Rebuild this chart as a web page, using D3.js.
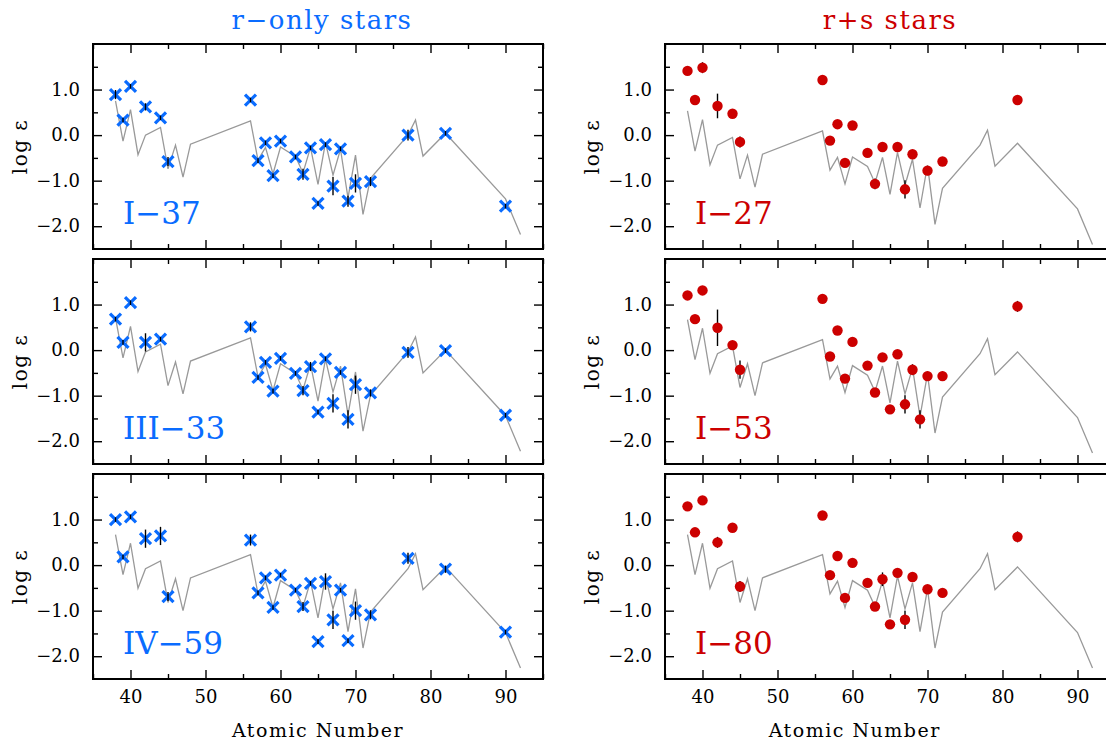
<!DOCTYPE html>
<html>
<head>
<meta charset="utf-8">
<script src="https://cdn.jsdelivr.net/npm/d3@7"></script>
<style>
  body { margin: 0; background: #fff; }
  svg text { font-family: "DejaVu Serif", serif; }
</style>
</head>
<body>
<svg id="chart" width="1106" height="741"></svg>
<script>
// scaled solar r-process pattern (gray line)
const solarZ = [38, 39, 40, 41, 42, 44, 45, 46, 47, 48, 56, 57, 58, 59, 60, 62, 63, 64, 65, 66, 67, 68, 69, 70, 71, 72, 77, 78, 79, 82, 90, 92];
const solarR = [0.75, -0.13, 0.56, -0.43, 0.0, 0.17, -0.74, -0.22, -0.92, -0.20, 0.31, -0.55, -0.27, -0.85, -0.26, -0.47, -0.83, -0.27, -1.08, -0.16, -0.88, -0.31, -1.38, -0.44, -1.74, -0.95, 0.0, 0.33, -0.46, 0.04, -1.40, -2.18];

// r-only stars
const rZ = [38, 39, 40, 42, 44, 45, 56, 57, 58, 59, 60, 62, 63, 64, 65, 66, 67, 68, 69, 70, 72, 77, 82, 90];
const starI37 = [0.89, 0.33, 1.07, 0.62, 0.38, -0.58, 0.77, -0.56, -0.17, -0.89, -0.13, -0.48, -0.86, -0.28, -1.50, -0.21, -1.12, -0.30, -1.45, -1.06, -1.02, 0.0, 0.04, -1.56];
const errI37 = [0.1, 0.05, 0.05, 0.08, 0.05, 0.1, 0.05, 0.05, 0.05, 0.05, 0.05, 0.05, 0.12, 0.05, 0.05, 0.05, 0.2, 0.05, 0.12, 0.2, 0.1, 0.12, 0.05, 0.05];
const starIII33 = [0.68, 0.17, 1.04, 0.17, 0.24, null, 0.51, -0.60, -0.27, -0.90, -0.18, -0.51, -0.89, -0.36, -1.36, -0.19, -1.17, -0.49, -1.52, -0.76, -0.94, -0.05, -0.01, -1.43];
const errIII33 = [0.05, 0.05, 0.05, 0.2, 0.05, null, 0.1, 0.05, 0.05, 0.05, 0.05, 0.05, 0.1, 0.1, 0.05, 0.05, 0.2, 0.05, 0.2, 0.2, 0.08, 0.12, 0.05, 0.05];
const starIV59 = [1.00, 0.18, 1.06, 0.58, 0.64, -0.69, 0.55, -0.61, -0.28, -0.93, -0.22, -0.55, -0.91, -0.40, -1.68, -0.36, -1.20, -0.55, -1.66, -1.00, -1.09, 0.15, -0.09, -1.47];
const errIV59 = [0.05, 0.05, 0.05, 0.2, 0.2, 0.1, 0.12, 0.05, 0.05, 0.05, 0.05, 0.05, 0.1, 0.05, 0.05, 0.18, 0.2, 0.05, 0.05, 0.2, 0.1, 0.12, 0.08, 0.05];

// r+s stars
const sZ = [38, 39, 40, 42, 44, 45, 56, 57, 58, 59, 60, 62, 63, 64, 65, 66, 67, 68, 69, 70, 72, 82];
const starI27 = [1.41, 0.77, 1.48, 0.64, 0.47, -0.15, 1.21, -0.12, 0.24, -0.61, 0.21, -0.39, -1.07, -0.26, null, -0.26, -1.19, -0.42, null, -0.78, -0.58, 0.77];
const errI27 = [0.08, 0.05, 0.12, 0.27, 0.05, 0.12, 0.05, 0.05, 0.05, 0.05, 0.05, 0.05, 0.12, 0.05, null, 0.05, 0.2, 0.1, null, 0.1, 0.1, 0.1];
const starI53 = [1.20, 0.68, 1.31, 0.49, 0.11, -0.43, 1.125, -0.14, 0.43, -0.625, 0.18, -0.34, -0.93, -0.16, -1.30, -0.09, -1.19, -0.43, -1.52, -0.57, -0.57, 0.96];
const errI53 = [0.05, 0.05, 0.05, 0.4, 0.05, 0.2, 0.05, 0.05, 0.05, 0.05, 0.05, 0.05, 0.05, 0.05, 0.08, 0.05, 0.2, 0.12, 0.2, 0.1, 0.1, 0.12];
const starI80 = [1.29, 0.72, 1.42, 0.50, 0.82, -0.47, 1.09, -0.22, 0.20, -0.72, 0.05, -0.39, -0.91, -0.31, -1.30, -0.17, -1.20, -0.26, null, -0.53, -0.61, 0.62];
const errI80 = [0.05, 0.05, 0.05, 0.12, 0.05, 0.12, 0.05, 0.05, 0.05, 0.05, 0.05, 0.05, 0.05, 0.15, 0.08, 0.05, 0.2, 0.05, null, 0.08, 0.08, 0.12];

// offset of the solar curve in each panel
const panelNames = ["I\u221237", "III\u221233", "IV\u221259", "I\u221227", "I\u221253", "I\u221280"];
const lineOffsets = [0.0, -0.04, -0.08, -0.22, -0.08, -0.08];

const xTicks = [40, 50, 60, 70, 80, 90];
const yTicks = [-2, -1, 0, 1];

const blue = "#0a6cff";
const red = "#cc0000";

const svg = d3.select("#chart");

const panelW = 450, panelH = 205;
const colX = [93, 665];
const rowY = [44, 259, 474];

const panels = [
  {col: 0, row: 0, z: rZ, v: starI37, e: errI37, kind: "r"},
  {col: 0, row: 1, z: rZ, v: starIII33, e: errIII33, kind: "r"},
  {col: 0, row: 2, z: rZ, v: starIV59, e: errIV59, kind: "r"},
  {col: 1, row: 0, z: sZ, v: starI27, e: errI27, kind: "s"},
  {col: 1, row: 1, z: sZ, v: starI53, e: errI53, kind: "s"},
  {col: 1, row: 2, z: sZ, v: starI80, e: errI80, kind: "s"}
];

const x = d3.scaleLinear().domain([35, 95]).range([0, panelW]);
const y = d3.scaleLinear().domain([-2.5, 2.0]).range([panelH, 0]);

const xMinor = d3.range(35, 96, 5).filter(d => d % 10 !== 0);
const yMinor = [-1.5, -0.5, 0.5, 1.5];

panels.forEach((p, i) => {
  const g = svg.append("g")
    .attr("transform", "translate(" + colX[p.col] + "," + rowY[p.row] + ")");

  // solar pattern
  const line = d3.line()
    .x(d => x(d[0]))
    .y(d => y(d[1] + lineOffsets[i]));
  g.append("path")
    .datum(solarZ.map((z, k) => [z, solarR[k]]))
    .attr("d", line)
    .attr("fill", "none")
    .attr("stroke", "#999")
    .attr("stroke-width", 1.3);

  const pts = p.z.map((z, k) => ({z: z, v: p.v[k], e: p.e[k]})).filter(d => d.v !== null);

  const drawBars = () => g.selectAll("line.err")
    .data(pts)
    .enter().append("line")
    .attr("class", "err")
    .attr("x1", d => x(d.z)).attr("x2", d => x(d.z))
    .attr("y1", d => y(d.v + d.e)).attr("y2", d => y(d.v - d.e))
    .attr("stroke", "#000")
    .attr("stroke-width", 1.4);

  if (p.kind === "r") {
    const s = 5.5;
    g.selectAll("path.mark")
      .data(pts)
      .enter().append("path")
      .attr("class", "mark")
      .attr("d", d => {
        const cx = x(d.z), cy = y(d.v);
        return "M" + (cx - s) + "," + (cy - s) + "L" + (cx + s) + "," + (cy + s) +
               "M" + (cx - s) + "," + (cy + s) + "L" + (cx + s) + "," + (cy - s);
      })
      .attr("stroke", blue)
      .attr("stroke-width", 3.2)
      .attr("fill", "none");
    drawBars();
  } else {
    drawBars();
    g.selectAll("circle.mark")
      .data(pts)
      .enter().append("circle")
      .attr("class", "mark")
      .attr("cx", d => x(d.z))
      .attr("cy", d => y(d.v))
      .attr("r", 5.2)
      .attr("fill", red);
  }

  // ticks on all four sides, pointing inward (one group per axis call)
  const addAxis = (axis, tx, ty) => g.append("g")
    .attr("transform", "translate(" + tx + "," + ty + ")")
    .call(axis);

  addAxis(d3.axisBottom(x).tickValues(xTicks).tickSize(-9).tickPadding(11)
    .tickFormat(p.row === 2 ? d3.format("d") : ""), 0, panelH);
  addAxis(d3.axisBottom(x).tickValues(xMinor).tickSize(-5).tickFormat(""), 0, panelH);
  addAxis(d3.axisTop(x).tickValues(xTicks).tickSize(-9).tickFormat(""), 0, 0);
  addAxis(d3.axisTop(x).tickValues(xMinor).tickSize(-5).tickFormat(""), 0, 0);
  addAxis(d3.axisLeft(y).tickValues(yTicks).tickSize(-9).tickPadding(13)
    .tickFormat(d3.format(".1f")), 0, 0);
  addAxis(d3.axisLeft(y).tickValues(yMinor).tickSize(-5).tickFormat(""), 0, 0);
  addAxis(d3.axisRight(y).tickValues(yTicks).tickSize(-9).tickFormat(""), panelW, 0);
  addAxis(d3.axisRight(y).tickValues(yMinor).tickSize(-5).tickFormat(""), panelW, 0);

  g.selectAll(".domain").remove();
  g.selectAll(".tick line").attr("stroke", "#000").attr("stroke-width", 1.4);
  g.selectAll(".tick text").attr("font-size", 18).attr("fill", "#000")
    .attr("font-family", "DejaVu Serif");

  g.append("rect")
    .attr("width", panelW).attr("height", panelH)
    .attr("fill", "none")
    .attr("stroke", "#000")
    .attr("stroke-width", 2);

  // y label
  g.append("text")
    .attr("transform", "translate(-73," + (panelH / 2) + ") rotate(-90)")
    .attr("text-anchor", "middle")
    .attr("dy", "0.35em")
    .attr("font-size", 20)
    .attr("letter-spacing", 1.5)
    .text("log \u03b5");

  // star name
  g.append("text")
    .attr("x", 30)
    .attr("y", 180)
    .attr("font-family", "Liberation Serif")
    .attr("font-size", 31)
    .attr("fill", p.kind === "r" ? blue : red)
    .text(panelNames[i]);

  if (p.row === 2) {
    g.append("text")
      .attr("x", p.col === 0 ? panelW / 2 : x(60.3))
      .attr("y", panelH + 58)
      .attr("text-anchor", "middle")
      .attr("font-size", 19)
      .attr("letter-spacing", 1.5)
      .text("Atomic Number");
  }
});

svg.append("text")
  .attr("x", colX[0] + panelW / 2 + 4)
  .attr("y", 29)
  .attr("text-anchor", "middle")
  .attr("font-size", 26)
  .attr("letter-spacing", 1.5)
  .attr("fill", blue)
  .text("r\u2212only stars");

svg.append("text")
  .attr("x", colX[1] + panelW / 2)
  .attr("y", 29)
  .attr("text-anchor", "middle")
  .attr("font-size", 26)
  .attr("letter-spacing", 1.5)
  .attr("fill", red)
  .text("r+s stars");
</script>
</body>
</html>
